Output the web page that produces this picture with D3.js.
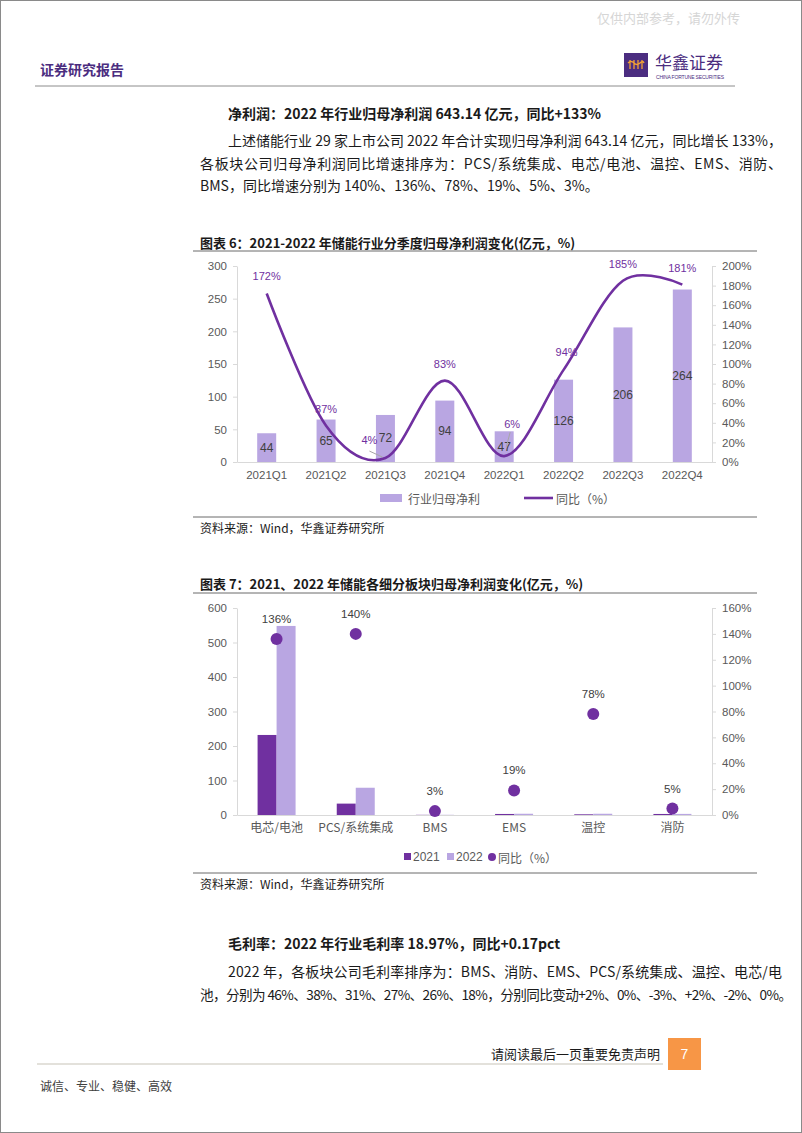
<!DOCTYPE html>
<html><head><meta charset="utf-8">
<script src="https://cdn.jsdelivr.net/npm/d3@7"></script>
<style>
body{margin:0;background:#fff;}
svg{display:block;}
</style></head>
<body>
<svg id="page" width="802" height="1133"></svg>
<script>
// ---------- data ----------
const quarters = ["2021Q1","2021Q2","2021Q3","2021Q4","2022Q1","2022Q2","2022Q3","2022Q4"];
const quarterProfit = [44,65,72,94,47,126,206,264];
const quarterYoy = [172,37,4,83,6,94,185,181];
const ticks6Left = [0,50,100,150,200,250,300];
const ticks6Right = [0,20,40,60,80,100,120,140,160,180,200];

const segments = ["电芯/电池","PCS/系统集成","BMS","EMS","温控","消防"];
const profit2021 = [232,33,0.5,3,2,3];
const profit2022 = [548,79,0.6,3.6,3.6,3.2];
const segmentYoy = [136,140,3,19,78,5];
const ticks7Left = [0,100,200,300,400,500,600];
const ticks7Right = [0,20,40,60,80,100,120,140,160];

// ---------- styles ----------
const DARK = "#7030A0", LIGHT = "#b9a6e2", AX = "#d9d9d9", TXT = "#595959";
const CJK = "'Noto Sans CJK SC','Noto Sans',sans-serif";
const LAT = "'Liberation Sans',Arial,'Noto Sans CJK SC',sans-serif";

const svg = d3.select("#page");
svg.append("rect").attr("x",0.5).attr("y",0.5).attr("width",801).attr("height",1132)
  .attr("fill","#fff").attr("stroke","#8a8a8a");

function txt(x,y,s,o={}){
  const t = svg.append("text").attr("x",x).attr("y",y).text(s)
    .attr("font-family",o.ff||CJK).attr("font-size",o.fs||14)
    .attr("fill",o.fill||"#1a1a1a").attr("font-weight",o.fw||400)
    .attr("text-anchor",o.anchor||"start").attr("dominant-baseline","central");
  if(o.len){t.attr("textLength",o.len).attr("lengthAdjust","spacing");}
  return t;
}
function hline(x1,x2,y,c,w){svg.append("line").attr("x1",x1).attr("x2",x2).attr("y1",y).attr("y2",y).attr("stroke",c).attr("stroke-width",w||1);}

// ---------- header ----------
txt(740,17,"仅供内部参考，请勿外传",{fs:13,fill:"#d6d6d6",anchor:"end"});
txt(40,69,"证券研究报告",{fs:14,fill:"#4b2d7f",fw:700});
svg.append("rect").attr("x",624).attr("y",53).attr("width",24).attr("height",24).attr("fill","#4b2d80");
svg.append("path").attr("d","M628 63 q3 -3 6 0 q3 3 6 0 q3 -3 4 0 M630 60 v9 M634 60 v9 M638 60 v9 M642 60 v9")
  .attr("stroke","#f3a233").attr("stroke-width",1.3).attr("fill","none");
txt(655,61,"华鑫证券",{fs:17,fill:"#4b2d7f"});
txt(656,76.5,"CHINA FORTUNE SECURITIES",{fs:5,fill:"#4b2d7f",ff:LAT,len:68});
hline(35,735,86,"#8c8c8c",1);

// ---------- text section 1 ----------
txt(228,113,"净利润：2022 年行业归母净利润 643.14 亿元，同比+133%",{fs:14,fw:700});
txt(228,140,"上述储能行业 29 家上市公司 2022 年合计实现归母净利润 643.14 亿元，同比增长 133%，",{fs:14,len:554});
txt(200,163,"各板块公司归母净利润同比增速排序为：PCS/系统集成、电芯/电池、温控、EMS、消防、",{fs:14,len:582});
txt(200,185,"BMS，同比增速分别为 140%、136%、78%、19%、5%、3%。",{fs:14});

// ---------- chart 6 ----------
txt(200,242,"图表 6：2021-2022 年储能行业分季度归母净利润变化(亿元，%)",{fs:13,fw:700});
hline(193,757,251,"#6b6b6b",1);

const x6 = d3.scaleBand().domain(quarters).range([237,712]);
const y6 = d3.scaleLinear().domain([0,300]).range([462,266]);
const y6r = d3.scaleLinear().domain([0,200]).range([462,266]);
const g6 = svg.append("g");

function styleAxis(g){
  g.selectAll("path,line").attr("stroke",AX);
  g.selectAll("text").attr("fill",TXT).attr("font-family",LAT).attr("font-size",11.5);
}
g6.append("g").attr("transform","translate(237,0)")
  .call(d3.axisLeft(y6).tickValues(ticks6Left).tickSize(4).tickSizeOuter(0).tickPadding(6))
  .call(styleAxis);
g6.append("g").attr("transform","translate(712,0)")
  .call(d3.axisRight(y6r).tickValues(ticks6Right).tickFormat(d=>d+"%").tickSize(4).tickSizeOuter(0).tickPadding(6))
  .call(styleAxis);

const bw6 = x6.bandwidth()*0.32;
g6.selectAll(".bar6").data(quarters).join("rect")
  .attr("x",d=>x6(d)+x6.bandwidth()/2-bw6/2).attr("width",bw6)
  .attr("y",(d,i)=>y6(quarterProfit[i])).attr("height",(d,i)=>y6(0)-y6(quarterProfit[i]))
  .attr("fill",LIGHT);

g6.append("g").attr("transform","translate(0,462)")
  .call(d3.axisBottom(x6).tickSize(0).tickSizeOuter(0).tickPadding(9))
  .call(styleAxis);

g6.selectAll(".bl6").data(quarters).join("text")
  .attr("x",d=>x6(d)+x6.bandwidth()/2)
  .attr("y",(d,i)=>(y6(quarterProfit[i])+y6(0))/2)
  .attr("text-anchor","middle").attr("dominant-baseline","central")
  .attr("font-family",LAT).attr("font-size",12).attr("fill","#404040")
  .text((d,i)=>quarterProfit[i]);

const pts6 = quarters.map((q,i)=>[x6(q)+x6.bandwidth()/2, y6r(quarterYoy[i])]);
g6.append("path").attr("d",d3.line().curve(d3.curveCatmullRom.alpha(0))(pts6))
  .attr("fill","none").attr("stroke",DARK).attr("stroke-width",2.6);

// label offsets (special placement for 4% and 6%)
const off6 = quarters.map((q,i)=> i===2?[-16,-18]: i===4?[8,-32]: i===5?[3,-18]:[0,-17]);
g6.selectAll(".ll6").data(quarters).join("text")
  .attr("x",(d,i)=>pts6[i][0]+off6[i][0]).attr("y",(d,i)=>pts6[i][1]+off6[i][1])
  .attr("text-anchor","middle").attr("dominant-baseline","central")
  .attr("font-family",LAT).attr("font-size",11).attr("fill",DARK)
  .text((d,i)=>quarterYoy[i]+"%");
// leader lines
[[2,[-16,-7],[-3,-1]],[4,[6,-24],[2,-9]]].forEach(([i,a,b])=>{
  g6.append("line").attr("x1",pts6[i][0]+a[0]).attr("y1",pts6[i][1]+a[1])
    .attr("x2",pts6[i][0]+b[0]).attr("y2",pts6[i][1]+b[1]).attr("stroke","#a6a6a6").attr("stroke-width",1);
});

// legend 6
svg.append("rect").attr("x",380).attr("y",494).attr("width",22).attr("height",8).attr("fill",LIGHT);
txt(408,498,"行业归母净利",{fs:12,fill:TXT});
svg.append("line").attr("x1",524).attr("x2",553).attr("y1",498).attr("y2",498).attr("stroke",DARK).attr("stroke-width",2.6);
txt(556,498,"同比（%）",{fs:12,fill:TXT});

hline(193,757,517,"#6b6b6b",1);
txt(200,527,"资料来源：Wind，华鑫证券研究所",{fs:12,fill:"#1a1a1a"});

// ---------- chart 7 ----------
txt(200,583,"图表 7：2021、2022 年储能各细分板块归母净利润变化(亿元，%)",{fs:13,fw:700});
hline(193,757,593,"#6b6b6b",1);

const x7 = d3.scaleBand().domain(segments).range([237,712]);
const xs7 = d3.scaleBand().domain(["2021","2022"]).range([0,38]);
const y7 = d3.scaleLinear().domain([0,600]).range([815,608]);
const y7r = d3.scaleLinear().domain([0,160]).range([815,608]);
const g7 = svg.append("g");

g7.append("g").attr("transform","translate(237,0)")
  .call(d3.axisLeft(y7).tickValues(ticks7Left).tickSize(4).tickSizeOuter(0).tickPadding(6))
  .call(styleAxis);
g7.append("g").attr("transform","translate(712,0)")
  .call(d3.axisRight(y7r).tickValues(ticks7Right).tickFormat(d=>d+"%").tickSize(4).tickSizeOuter(0).tickPadding(6))
  .call(styleAxis);

const c7 = d=>x7(d)+x7.bandwidth()/2;
g7.selectAll(".b21").data(segments).join("rect")
  .attr("x",d=>c7(d)-19+xs7("2021")).attr("width",xs7.bandwidth())
  .attr("y",(d,i)=>y7(profit2021[i])).attr("height",(d,i)=>y7(0)-y7(profit2021[i]))
  .attr("fill",DARK);
g7.selectAll(".b22").data(segments).join("rect")
  .attr("x",d=>c7(d)-19+xs7("2022")).attr("width",xs7.bandwidth())
  .attr("y",(d,i)=>y7(profit2022[i])).attr("height",(d,i)=>y7(0)-y7(profit2022[i]))
  .attr("fill",LIGHT);

g7.append("g").attr("transform","translate(0,815)")
  .call(d3.axisBottom(x7).tickSize(0).tickSizeOuter(0).tickPadding(8))
  .call(styleAxis)
  .call(g=>g.selectAll("text").attr("font-family",CJK).attr("font-size",12));

g7.selectAll(".dot").data(segments).join("circle")
  .attr("cx",c7).attr("cy",(d,i)=>y7r(segmentYoy[i])).attr("r",6).attr("fill",DARK);
g7.selectAll(".dl").data(segments).join("text")
  .attr("x",c7).attr("y",(d,i)=>y7r(segmentYoy[i])-20)
  .attr("text-anchor","middle").attr("dominant-baseline","central")
  .attr("font-family",LAT).attr("font-size",11.5).attr("fill","#404040")
  .text((d,i)=>segmentYoy[i]+"%");

// legend 7
svg.append("rect").attr("x",404).attr("y",853).attr("width",7).attr("height",7).attr("fill",DARK);
txt(413,857,"2021",{fs:12,fill:TXT,ff:LAT});
svg.append("rect").attr("x",447).attr("y",853).attr("width",7).attr("height",7).attr("fill",LIGHT);
txt(456,857,"2022",{fs:12,fill:TXT,ff:LAT});
svg.append("circle").attr("cx",492).attr("cy",857).attr("r",4).attr("fill",DARK);
txt(498,857,"同比（%）",{fs:12,fill:TXT});

hline(193,757,873,"#6b6b6b",1);
txt(200,883,"资料来源：Wind，华鑫证券研究所",{fs:12,fill:"#1a1a1a"});

// ---------- text section 2 ----------
txt(228,943,"毛利率：2022 年行业毛利率 18.97%，同比+0.17pct",{fs:14,fw:700});
txt(228,971,"2022 年，各板块公司毛利率排序为：BMS、消防、EMS、PCS/系统集成、温控、电芯/电",{fs:14,len:554});
txt(200,994,"池，分别为 46%、38%、31%、27%、26%、18%，分别同比变动+2%、0%、-3%、+2%、-2%、0%。",{fs:13.6,len:592});

// ---------- footer ----------
txt(660,1053,"请阅读最后一页重要免责声明",{fs:13,anchor:"end"});
svg.append("rect").attr("x",668).attr("y",1038).attr("width",33).attr("height",32).attr("fill","#f79646");
txt(684.5,1054,"7",{fs:14,fill:"#fff",anchor:"middle",ff:LAT});
hline(37,663,1064,"#c8c4b8",1.2);
txt(40,1085,"诚信、专业、稳健、高效",{fs:12,fill:"#404040"});
</script>
</body></html>
